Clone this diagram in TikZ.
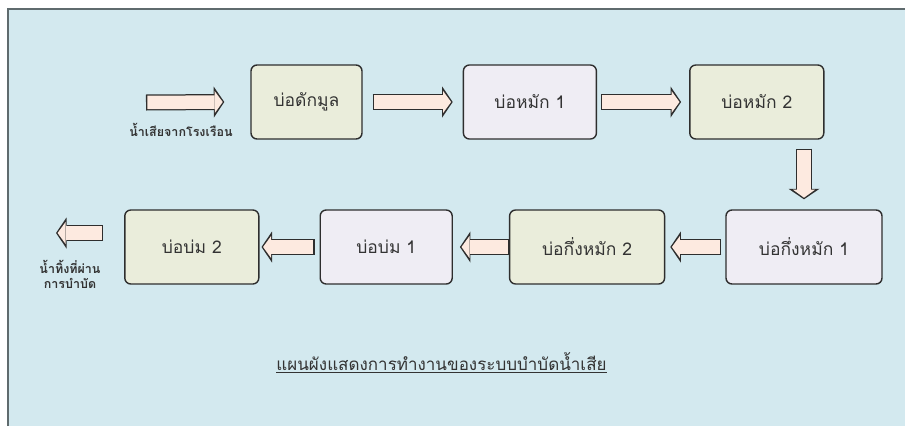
\documentclass[tikz,border=0pt]{standalone}
\usepackage{fontspec}
\newfontfamily\thaifont[Script=Thai]{Loma}
\usetikzlibrary{positioning,arrows.meta}
\definecolor{panelbg}{HTML}{D3E9EF}
\definecolor{paneledge}{HTML}{5F6B6E}
\definecolor{boxline}{HTML}{2E2E2E}
\definecolor{greenfill}{HTML}{EAEDDB}
\definecolor{lilacfill}{HTML}{EFEDF4}
\definecolor{peach}{HTML}{FDEAE0}
\definecolor{inkgray}{HTML}{333333}
\def \tu {1pt}

\tikzset{
  pond/.style={draw=boxline,line width=1.4pt,rounded corners=6pt,minimum height=74*\tu,
    text=inkgray,font=\thaifont\fontsize{17.5}{20}\selectfont},
  greenpond/.style={pond,fill=greenfill},
  lilacpond/.style={pond,fill=lilacfill},
  flow/.style={draw=peach,line width=13.5pt,shorten <=1.3pt,shorten >=1.6pt,
    -{Triangle[length=8pt,width=22pt,line width=0pt]},
    preaction={draw=boxline,line width=16pt,shorten <=0pt,shorten >=0pt,
      -{Triangle[length=10.5pt,width=31pt,line width=0pt]}}},
  note/.style={text=inkgray,font=\thaifont\bfseries\fontsize{12.5}{15}\selectfont,align=center}
}

\begin{document}
\begin{tikzpicture}[x=1pt,y=-1pt]
    \useasboundingbox (0,0) rectangle (905,426);
    \fill[panelbg] (8,9) rectangle (905,426);
    \draw[paneledge,line width=1.5pt] (8,426) -- (8,9) -- (905,9);

    % top row
    \node[greenpond,minimum width=111*\tu] (dm) at (306.5,102) {บ่อดักมูล};
    \node[lilacpond,minimum width=133*\tu,right=100*\tu of dm] (h1) {บ่อหมัก 1};
    \node[greenpond,minimum width=134*\tu,right=92*\tu of h1] (h2) {บ่อหมัก 2};

    % bottom row
    \node[lilacpond,minimum width=156*\tu] (kh1) at (804,247) {บ่อกึ่งหมัก 1};
    \node[greenpond,minimum width=155*\tu,left=60*\tu of kh1] (kh2) {บ่อกึ่งหมัก 2};
    \node[lilacpond,minimum width=132*\tu,left=56*\tu of kh2] (bb1) {บ่อบ่ม 1};
    \node[greenpond,minimum width=134*\tu,left=60*\tu of bb1] (bb2) {บ่อบ่ม 2};

    \coordinate (src) at (146,102.5);
    \coordinate (drain) at (56,233);
    \coordinate (drop) at (kh1.north |- h2.south);
    \coordinate (spill) at (bb2.west |- drain);

    \draw[flow] (src) -- ([xshift=-26*\tu]dm.west);
    \draw[flow] ([xshift=10*\tu]dm.east) -- ([xshift=-10*\tu]h1.west);
    \draw[flow] ([xshift=4*\tu]h1.east) -- ([xshift=-8*\tu]h2.west);
    \draw[flow] ([yshift=-9*\tu]drop) -- ([yshift=10*\tu]kh1.north);
    \draw[flow] ([xshift=-4*\tu]kh1.west) -- ([xshift=5*\tu]kh2.east);
    \draw[flow] (kh2.west) -- ([xshift=7*\tu]bb1.east);
    \draw[flow] ([xshift=-5*\tu]bb1.west) -- ([xshift=2*\tu]bb2.east);
    \draw[flow] ([xshift=-21*\tu]spill) -- (drain);

    \node[note,below=17*\tu of src,xshift=35*\tu] (srclabel) {น้ำเสียจากโรงเรือน};
    \node[note,below=24*\tu of drain,xshift=14*\tu] (drainlabel) {น้ำทิ้งที่ผ่าน\\การบำบัด};
    \node[note,font=\thaifont\fontsize{17}{20}\selectfont] (title) at (441.5,363) {\underline{แผนผังแสดงการทำงานของระบบบำบัดน้ำเสีย}};
\end{tikzpicture}
\end{document}
